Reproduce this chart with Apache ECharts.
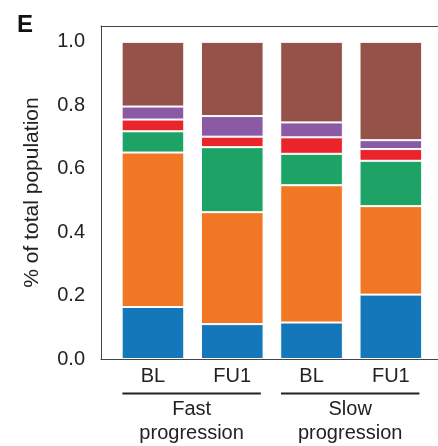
<!DOCTYPE html>
<html>
<head>
<meta charset="utf-8">
<script src="https://cdn.jsdelivr.net/npm/echarts@6/dist/echarts.min.js"></script>
<style>
  html, body { margin: 0; padding: 0; background: #fff; }
  #chart { width: 438px; height: 446px; }
</style>
</head>
<body>
<div id="chart"></div>
<script>
// categories along x, and the two groups they belong to
const categories = ['BL', 'FU1', 'BL', 'FU1']
const groupNames = ['Fast\nprogression', 'Slow\nprogression']
const groupOf = [0, 0, 1, 1]
const yTicks = [0, 0.2, 0.4, 0.6, 0.8, 1.0]

// stacked fractions, bottom to top
const blueVals = [0.164, 0.110, 0.115, 0.203]
const orangeVals = [0.487, 0.353, 0.433, 0.279]
const greenVals = [0.067, 0.205, 0.099, 0.143]
const redVals = [0.037, 0.033, 0.052, 0.037]
const purpleVals = [0.041, 0.065, 0.047, 0.028]
const brownVals = [0.204, 0.234, 0.254, 0.310]

const layers = [
  { name: 'Cluster 1', data: blueVals, color: '#1477ba' },
  { name: 'Cluster 2', data: orangeVals, color: '#f27724' },
  { name: 'Cluster 3', data: greenVals, color: '#1ea366' },
  { name: 'Cluster 4', data: redVals, color: '#e9242a' },
  { name: 'Cluster 5', data: purpleVals, color: '#8a5aa4' },
  { name: 'Cluster 6', data: brownVals, color: '#945248' },
]

const font = 'Liberation Sans, Arial, sans-serif'
const ink = '#222'
const frameLine = { show: true, onZero: false, lineStyle: { color: '#444', width: 1 } }

const chart = echarts.init(document.getElementById('chart'))

const option = {
  animation: false,
  title: {
    text: 'E',
    left: 12,
    top: 8,
    textStyle: { fontFamily: font, fontSize: 24, fontWeight: 'bold', color: '#111' },
  },
  grid: [
    // frame (axes box), reaches past the right edge like the original
    { left: 101, top: 26, right: -2, bottom: 87 },
    // bars
    { left: 113.3, top: 26, right: 7.5, bottom: 87 },
  ],
  xAxis: [
    {
      gridIndex: 0,
      type: 'value',
      min: 0,
      max: 1,
      splitLine: { show: false },
      axisTick: { show: false },
      axisLabel: { show: false },
      axisLine: frameLine,
    },
    {
      gridIndex: 0,
      type: 'value',
      position: 'top',
      min: 0,
      max: 1,
      splitLine: { show: false },
      axisTick: { show: false },
      axisLabel: { show: false },
      axisLine: frameLine,
    },
    {
      gridIndex: 1,
      type: 'category',
      data: categories,
      axisLine: { show: false },
      axisTick: { show: false },
      axisLabel: { fontFamily: font, fontSize: 20, color: ink, margin: 7 },
    },
  ],
  yAxis: [
    {
      gridIndex: 0,
      type: 'value',
      min: 0,
      max: 1.05,
      splitLine: { show: false },
      axisTick: { show: false },
      axisLine: frameLine,
      axisLabel: {
        customValues: yTicks,
        formatter: (v) => v.toFixed(1),
        fontFamily: font,
        fontSize: 20,
        color: ink,
        margin: 16,
      },
      name: '% of total population',
      nameLocation: 'middle',
      nameGap: 58,
      nameTextStyle: { fontFamily: font, fontSize: 21, color: ink },
    },
    {
      gridIndex: 1,
      type: 'value',
      min: 0,
      max: 1.05,
      show: false,
    },
  ],
  series: layers.map((l) => ({
    name: l.name,
    type: 'bar',
    stack: 'total',
    xAxisIndex: 2,
    yAxisIndex: 1,
    barWidth: '79%',
    data: l.data,
    itemStyle: { color: l.color, borderColor: '#fff', borderWidth: 1 },
  })),
}
chart.setOption(option)

// group brackets under the tick labels
function drawGroups() {
  const c0 = chart.convertToPixel({ xAxisIndex: 2 }, 0)
  const c1 = chart.convertToPixel({ xAxisIndex: 2 }, 1)
  const band = c1 - c0
  const yLine = chart.convertToPixel({ yAxisIndex: 1 }, 0) + 34.5
  const elements = []
  groupNames.forEach((g, gi) => {
    const idx = groupOf.map((v, i) => (v === gi ? i : -1)).filter((i) => i >= 0)
    const x0 = chart.convertToPixel({ xAxisIndex: 2 }, idx[0]) - band * 0.385
    const x1 = chart.convertToPixel({ xAxisIndex: 2 }, idx[idx.length - 1]) + band * 0.36
    elements.push({
      type: 'line',
      shape: { x1: x0, y1: yLine, x2: x1, y2: yLine },
      style: { stroke: ink, lineWidth: 2 },
    })
    elements.push({
      type: 'text',
      x: (x0 + x1) / 2,
      y: yLine + 4,
      style: {
        text: g,
        fontFamily: font,
        fontSize: 20,
        lineHeight: 24,
        fill: ink,
        align: 'center',
        verticalAlign: 'top',
      },
    })
  })
  chart.setOption({ graphic: { elements } })
}
drawGroups()
</script>
</body>
</html>
